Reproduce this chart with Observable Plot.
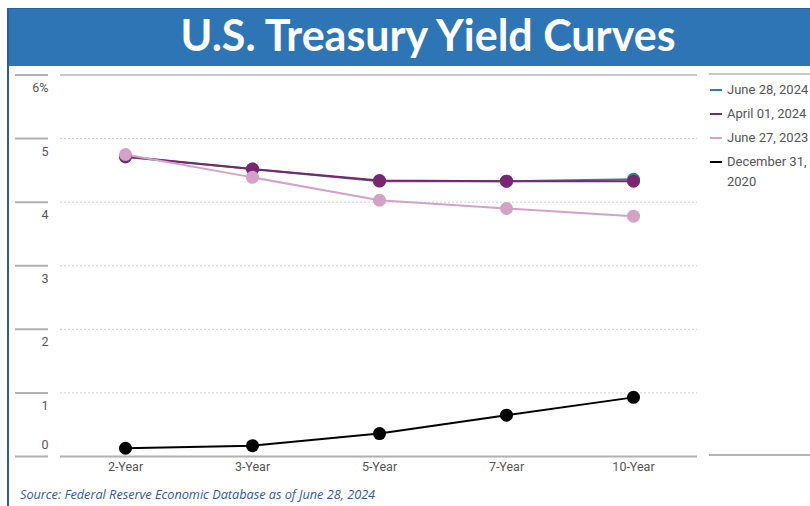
<!DOCTYPE html>
<html>
<head>
<meta charset="utf-8">
<script src="https://cdn.jsdelivr.net/npm/d3@7"></script>
<script src="https://cdn.jsdelivr.net/npm/@observablehq/plot@0.6"></script>
<style>
  html, body { margin: 0; padding: 0; background: #fff; }
  #wrap { position: relative; width: 810px; height: 506px; overflow: hidden; font-family: Roboto, sans-serif; }
  #banner { position: absolute; left: 7px; top: 8px; width: 803px; height: 58px; background: #2e75b6; border-top: 1px solid #2a5ea0; box-sizing: border-box; }
  #title { position: absolute; top: 11px; left: 48px; width: 760px; text-align: center; color: #fff; font-family: Lato, "Open Sans", sans-serif; font-weight: bold; font-size: 43px; line-height: 48px; }
  #leftbar { position: absolute; left: 7px; top: 8px; width: 2px; height: 498px; background: #2f58a6; }
  #chart { position: absolute; left: 0; top: 0; }
  #legend { position: absolute; left: 709px; top: 73px; width: 101px; height: 383px; border-top: 2px solid #c8c8c8; border-bottom: 2px solid #b4b4b4; box-sizing: border-box; }
  .item { position: absolute; left: 1px; font-size: 13px; color: #555; line-height: 20px; }
  .sw { position: absolute; left: 0; top: 9px; width: 12px; height: 2px; }
  .lbl { position: absolute; left: 17px; top: 0; width: 90px; white-space: normal; }
  #source { position: absolute; left: 20px; top: 485px; font-family: "Open Sans", sans-serif; font-style: italic; font-size: 12.7px; color: #2f58a6; }
</style>
</head>
<body>
<div id="wrap">
  <div id="chart"></div>
  <div id="banner"></div>
  <div id="title">U.S. Treasury Yield Curves</div>
  <div id="leftbar"></div>
  <div id="legend"></div>
  <div id="source">Source: Federal Reserve Economic Database as of June 28, 2024</div>
</div>
<script>
const tenors = ["2-Year", "3-Year", "5-Year", "7-Year", "10-Year"];
const seriesNames = ["June 28, 2024", "April 01, 2024", "June 27, 2023", "December 31, 2020"];
const seriesColors = ["#2f8583", "#7b2472", "#d3a2c7", "#000000"];
const june282024 = [4.71, 4.52, 4.33, 4.33, 4.36];
const april012024 = [4.72, 4.52, 4.34, 4.33, 4.33];
const june272023 = [4.75, 4.39, 4.03, 3.90, 3.78];
const dec312020 = [0.13, 0.17, 0.36, 0.65, 0.93];
const yTickValues = [0, 1, 2, 3, 4, 5, 6];
const yTickLabels = ["0", "1", "2", "3", "4", "5", "6%"];

const seriesValues = [june282024, april012024, june272023, dec312020];
const data = [];
seriesNames.forEach((s, i) => tenors.forEach((t, j) => data.push({series: s, tenor: t, value: seriesValues[i][j]})));
const tickData = yTickValues.map((v, i) => ({v, label: yTickLabels[i]}));

const chart = Plot.plot({
  width: 810,
  height: 506,
  marginLeft: 60,
  marginRight: 113,
  marginTop: 74.5,
  marginBottom: 50,
  style: {fontFamily: "Roboto, sans-serif", fontSize: "12.5px", color: "#555", background: "transparent"},
  x: {type: "point", domain: tenors, padding: 0.5, axis: null, label: null},
  y: {domain: [0, 6], axis: null, label: null},
  color: {domain: seriesNames, range: seriesColors},
  marks: [
    Plot.gridY([1, 2, 3, 4, 5], {stroke: "#d0d0d0", strokeOpacity: 1, strokeDasharray: "2,2"}),
    Plot.ruleY([6], {stroke: "#c8c8c8", strokeWidth: 2}),
    Plot.ruleY([0], {stroke: "#b0b0b0", strokeWidth: 2}),
    Plot.axisY({ticks: yTickValues, tickSize: 33, dx: -12, tickFormat: () => "", stroke: "#b0b0b0", strokeWidth: 2, anchor: "left", label: null}),
    Plot.text(tickData.filter(d => d.v > 0), {y: "v", text: "label", frameAnchor: "left", dx: -12, dy: 13, textAnchor: "end", fill: "#555"}),
    Plot.text(tickData.filter(d => d.v === 0), {y: "v", text: "label", frameAnchor: "left", dx: -12, dy: -12, textAnchor: "end", fill: "#555"}),
    Plot.axisX({tickSize: 0, tickPadding: 6, anchor: "bottom", fill: "#555", label: null}),
    Plot.line(data, {x: "tenor", y: "value", z: "series", stroke: "series", strokeWidth: 2}),
    Plot.dot(data, {x: "tenor", y: "value", fill: "series", r: 6.5})
  ]
});
document.getElementById("chart").appendChild(chart);

const legend = document.getElementById("legend");
const tops = [5, 29, 53, 77];
seriesNames.forEach((s, i) => {
  const it = document.createElement("div");
  it.className = "item";
  it.style.top = tops[i] + "px";
  it.innerHTML = `<div class="sw" style="background:${seriesColors[i]}"></div><div class="lbl">${s}</div>`;
  legend.appendChild(it);
});
</script>
</body>
</html>
